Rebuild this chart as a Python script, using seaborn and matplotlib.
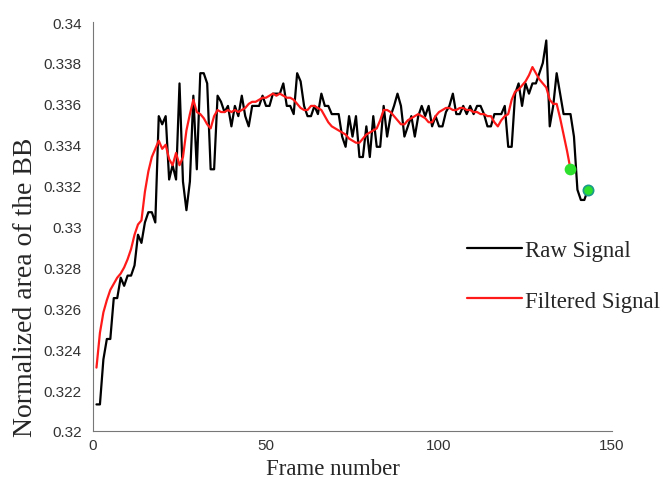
import numpy as np
import pandas as pd
import seaborn as sns
import matplotlib.pyplot as plt
from matplotlib.ticker import FuncFormatter

# raw signal, one value per frame
raw_frames = list(range(1, 144))
raw_values = [
    0.3213, 0.3213, 0.3235, 0.3245, 0.3245, 0.3265, 0.3265, 0.3275, 0.3271, 0.3276,
    0.3276, 0.3281, 0.3296, 0.3292, 0.3302, 0.3307, 0.3307, 0.3302, 0.3354, 0.3350,
    0.3354, 0.3323, 0.3330, 0.3323, 0.3370, 0.3322, 0.3308, 0.3322, 0.3364, 0.3328,
    0.3375, 0.3375, 0.3370, 0.3328, 0.3328, 0.3364, 0.3361, 0.3356, 0.3359, 0.3349,
    0.3359, 0.3354, 0.3364, 0.3354, 0.3349, 0.3359, 0.3359, 0.3359, 0.3364, 0.3359,
    0.3359, 0.3365, 0.3365, 0.3365, 0.3370, 0.3359, 0.3359, 0.3355, 0.3375, 0.3371,
    0.3359, 0.3354, 0.3354, 0.3359, 0.3355, 0.3365, 0.3359, 0.3359, 0.3355, 0.3355,
    0.3355, 0.3344, 0.3339, 0.3354, 0.3344, 0.3354, 0.3334, 0.3334, 0.3349, 0.3334,
    0.3354, 0.3339, 0.3339, 0.3359, 0.3344, 0.3354, 0.3359, 0.3365, 0.3359, 0.3344,
    0.3349, 0.3354, 0.3344, 0.3354, 0.3359, 0.3354, 0.3359, 0.3349, 0.3354, 0.3349,
    0.3349, 0.3356, 0.3359, 0.3365, 0.3355, 0.3355, 0.3359, 0.3355, 0.3359, 0.3355,
    0.3359, 0.3359, 0.3355, 0.3349, 0.3349, 0.3355, 0.3355, 0.3355, 0.3359, 0.3339,
    0.3339, 0.3365, 0.3370, 0.3359, 0.3370, 0.3365, 0.3370, 0.3370, 0.3375, 0.3380,
    0.3391, 0.3349, 0.3359, 0.3375, 0.3365, 0.3355, 0.3355, 0.3355, 0.3344, 0.3318,
    0.3313, 0.3313, 0.3318,
]

# filtered signal
filt_frames = list(range(1, 139))
filt_values = [
    0.3231, 0.3248, 0.3258, 0.3264, 0.3269, 0.3272, 0.3275, 0.3277, 0.3280, 0.3284,
    0.3289, 0.3296, 0.3301, 0.3303, 0.3317, 0.3327, 0.3334, 0.3338, 0.3342, 0.3338,
    0.3340, 0.3333, 0.3330, 0.3336, 0.3330, 0.3334, 0.3347, 0.3355, 0.3362, 0.3356,
    0.3355, 0.3353, 0.3350, 0.3348, 0.3354, 0.3357, 0.3356, 0.3356, 0.3357, 0.3356,
    0.3357, 0.3356, 0.3357, 0.3358, 0.3360, 0.3361, 0.3361, 0.3362, 0.3363, 0.3363,
    0.3364, 0.3365, 0.3364, 0.3365, 0.3364, 0.3363, 0.3363, 0.3362, 0.3360, 0.3358,
    0.3357, 0.3357, 0.3359, 0.3359, 0.3358, 0.3357, 0.3354, 0.3351, 0.3349, 0.3348,
    0.3347, 0.3346, 0.3345, 0.3343, 0.3342, 0.3341, 0.3341, 0.3343, 0.3345, 0.3346,
    0.3347, 0.3348, 0.3352, 0.3357, 0.3357, 0.3356, 0.3354, 0.3352, 0.3350, 0.3350,
    0.3352, 0.3353, 0.3354, 0.3355, 0.3354, 0.3353, 0.3351, 0.3351, 0.3354, 0.3356,
    0.3357, 0.3358, 0.3358, 0.3357, 0.3357, 0.3358, 0.3358, 0.3357, 0.3357, 0.3356,
    0.3356, 0.3355, 0.3355, 0.3354, 0.3354, 0.3351, 0.3349, 0.3352, 0.3354, 0.3355,
    0.3362, 0.3366, 0.3367, 0.3369, 0.3371, 0.3374, 0.3378, 0.3375, 0.3372, 0.3370,
    0.3368, 0.3362, 0.3360, 0.3360, 0.3353, 0.3345, 0.3337, 0.3328,
]

# end points marked in green
end_frames = [138, 143]
end_values = [0.3328, 0.3318]

x_ticks = [0, 50, 100, 150]
y_ticks = [0.32, 0.322, 0.324, 0.326, 0.328, 0.33, 0.332, 0.334, 0.336, 0.338, 0.34]

sns.set_style("white")
plt.rcParams["font.family"] = ["Liberation Sans", "DejaVu Sans"]

raw_df = pd.DataFrame({"frame": raw_frames, "value": raw_values})
filt_df = pd.DataFrame({"frame": filt_frames, "value": filt_values})

fig = plt.figure(figsize=(6.62, 4.81), dpi=100)
ax = fig.add_axes([0.1405, 0.1019, 0.784, 0.8501])

sns.lineplot(data=raw_df, x="frame", y="value", ax=ax, color="black",
             linewidth=1.6, label="Raw Signal")
sns.lineplot(data=filt_df, x="frame", y="value", ax=ax, color="#ff1a1a",
             linewidth=1.6, label="Filtered Signal")
ax.scatter(end_frames[:1], end_values[:1], s=55, color="#2ee02e", zorder=5)
ax.scatter(end_frames[1:], end_values[1:], s=55, color="#2ee02e",
           edgecolor="#1a9a8a", linewidth=1.2, zorder=5)

ax.set_xlim(0, 150)
ax.set_ylim(0.32, 0.34)
ax.set_xticks(x_ticks)
ax.set_yticks(y_ticks)
ax.yaxis.set_major_formatter(FuncFormatter(lambda v, p: f"{v:g}"))
ax.tick_params(direction="in", length=4, width=0.8, colors="#666666",
               labelcolor="#333333", labelsize=11)
ax.tick_params(axis="y", pad=8)
ax.tick_params(axis="x", pad=5)

for side in ["top", "right"]:
    ax.spines[side].set_visible(False)
for side in ["left", "bottom"]:
    ax.spines[side].set_color("#777777")
    ax.spines[side].set_linewidth(0.8)

ax.set_xlabel("Frame number", family="Liberation Serif", fontsize=16.5)
ax.set_ylabel("Normalized area of the BB", family="Liberation Serif", fontsize=20)
ax.xaxis.set_label_coords(0.462, -0.065)
ax.yaxis.set_label_coords(-0.106, 0.355)

ax.legend(loc="center left", bbox_to_anchor=(0.705, 0.425),
          bbox_transform=fig.transFigure, frameon=False,
          prop={"family": "Liberation Serif", "size": 16.5},
          handlelength=2.4, handletextpad=0.15, labelspacing=1.3,
          borderpad=0, borderaxespad=0)

plt.savefig("out.png", dpi=100)
plt.close()
